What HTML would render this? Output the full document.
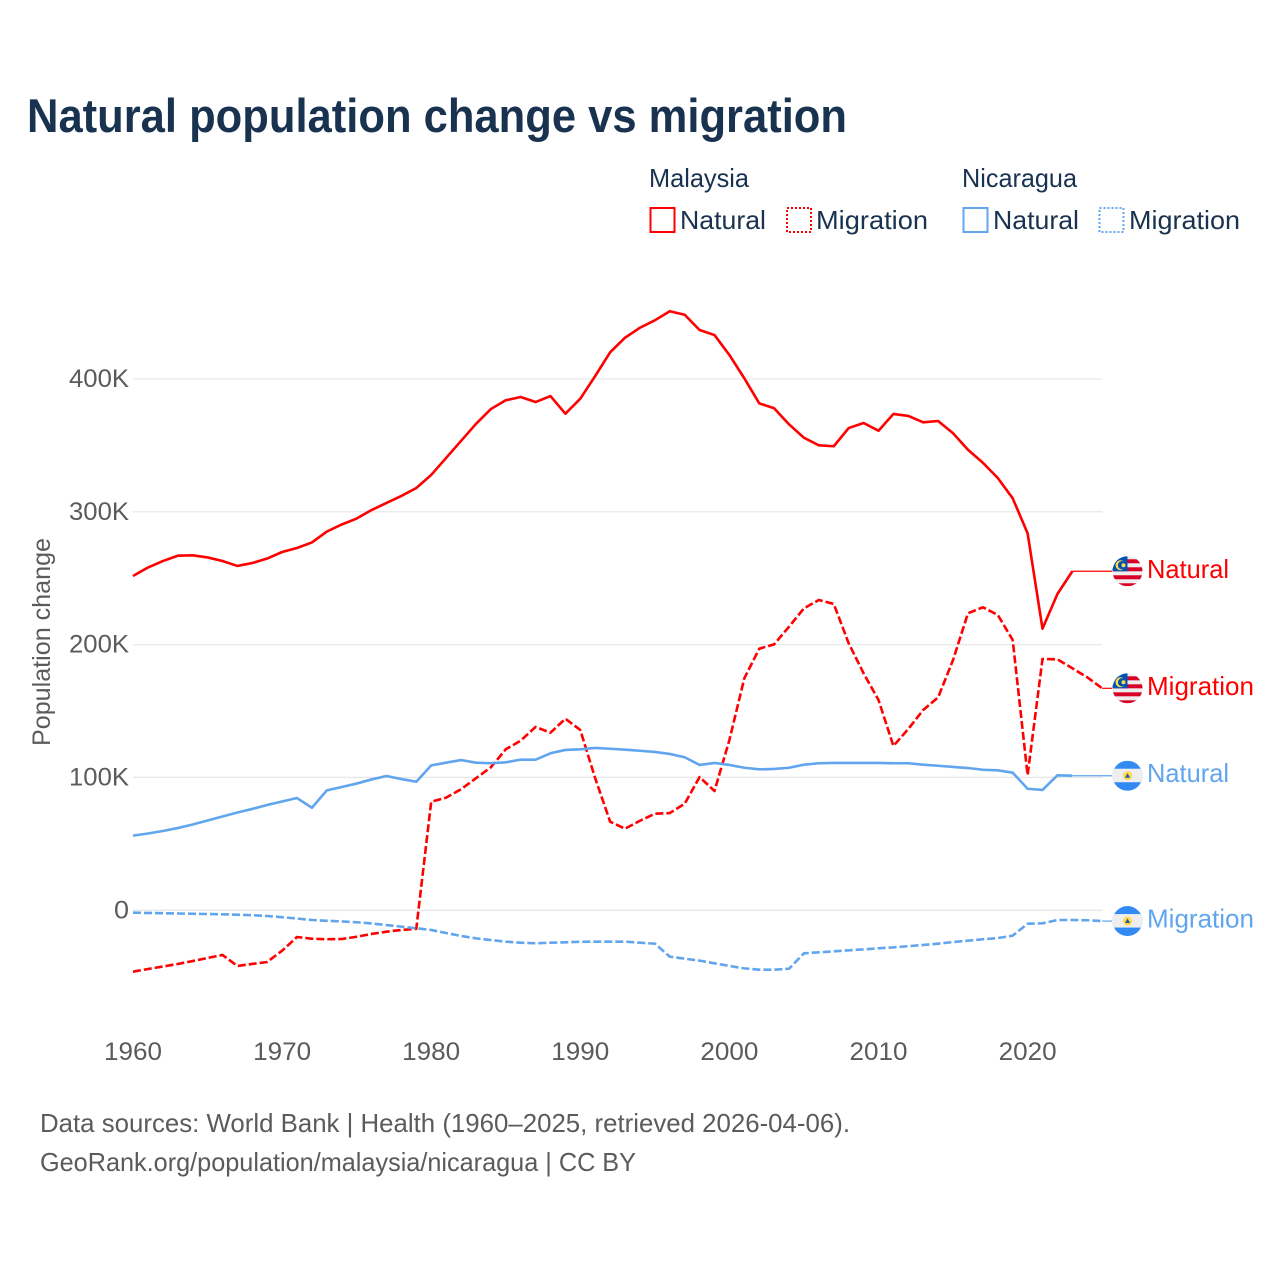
<!DOCTYPE html>
<html lang="en">
<head>
<meta charset="utf-8">
<title>Natural population change vs migration</title>
<style>
html,body{margin:0;padding:0;background:#fff;}
svg{display:block;font-family:"Liberation Sans",sans-serif;}
</style>
</head>
<body>
<svg id="chart" xmlns="http://www.w3.org/2000/svg" width="1280" height="1280" viewBox="0 0 1280 1280">
  <defs>
    <clipPath id="flag-clip"><circle cx="0" cy="0" r="15"></circle></clipPath>
    <g id="flag-my">
      <g clip-path="url(#flag-clip)">
        <rect x="-15" y="-15" width="30" height="30" fill="#eeeeee"></rect>
        <rect x="-15" y="-12" width="30" height="4" fill="#d80027"></rect>
        <rect x="-15" y="-4" width="30" height="4" fill="#d80027"></rect>
        <rect x="-15" y="4" width="30" height="4" fill="#d80027"></rect>
        <rect x="-15" y="12" width="30" height="3" fill="#d80027"></rect>
        <rect x="-15" y="-15" width="15" height="15" fill="#0052b4"></rect>
        <circle cx="-7" cy="-6" r="5" fill="#ffda44"></circle>
        <circle cx="-5.4" cy="-6" r="4.2" fill="#0052b4"></circle>
        <circle cx="-4" cy="-6" r="2" fill="#ffda44"></circle>
      </g>
    </g>
    <g id="flag-ni">
      <g clip-path="url(#flag-clip)">
        <rect x="-15" y="-15" width="30" height="30" fill="#338af3"></rect>
        <rect x="-15" y="-7" width="30" height="13.5" fill="#eeeeee"></rect>
        <circle cx="0" cy="0" r="4.5" fill="#ffda44"></circle>
        <path d="M0 -2.5 L2.6 2 L-2.6 2 Z" fill="#1a5fb4"></path>
      </g>
    </g>
  </defs>

  <rect x="0" y="0" width="1280" height="1280" fill="#ffffff"></rect>

  <text x="27" y="132" font-size="47" font-weight="700" fill="#18324f" textLength="820" lengthAdjust="spacingAndGlyphs">Natural population change vs migration</text>

  <g font-size="26" fill="#18324f">
    <text x="649" y="187" textLength="100" lengthAdjust="spacingAndGlyphs">Malaysia</text>
    <text x="962" y="187" textLength="115" lengthAdjust="spacingAndGlyphs">Nicaragua</text>
    <rect x="650.5" y="208" width="24" height="24" fill="none" stroke="#ff0000" stroke-width="2"></rect>
    <text x="680" y="229" textLength="86" lengthAdjust="spacingAndGlyphs">Natural</text>
    <rect x="787" y="208" width="24" height="24" fill="none" stroke="#ff0000" stroke-width="2" stroke-dasharray="2 2"></rect>
    <text x="816" y="229" textLength="112" lengthAdjust="spacingAndGlyphs">Migration</text>
    <rect x="963.5" y="208" width="24" height="24" fill="none" stroke="#61a5ee" stroke-width="2"></rect>
    <text x="993" y="229" textLength="86" lengthAdjust="spacingAndGlyphs">Natural</text>
    <rect x="1099.5" y="208" width="24" height="24" fill="none" stroke="#61a5ee" stroke-width="2" stroke-dasharray="2 2"></rect>
    <text x="1129" y="229" textLength="111" lengthAdjust="spacingAndGlyphs">Migration</text>
  </g>

  <text transform="translate(50,642) rotate(-90)" text-anchor="middle" font-size="25" fill="#5b5b5b" textLength="208" lengthAdjust="spacingAndGlyphs">Population change</text>

  <g id="grid"></g>
  <g id="y-ticks"></g>
  <g id="x-ticks"></g>
  <g id="series"></g>
  <g id="ends"></g>

  <g font-size="26" fill="#5b5b5b">
    <text x="40" y="1132" textLength="810" lengthAdjust="spacingAndGlyphs">Data sources: World Bank | Health (1960–2025, retrieved 2026-04-06).</text>
    <text x="40" y="1171" textLength="596" lengthAdjust="spacingAndGlyphs">GeoRank.org/population/malaysia/nicaragua | CC BY</text>
  </g>
</svg>
<script>
const startYear = 1960;
const xTickYears = [1960, 1970, 1980, 1990, 2000, 2010, 2020];
const yTickValues = [0, 100, 200, 300, 400];
const yTickLabels = ['0', '100K', '200K', '300K', '400K'];

// Values in thousands, one per year starting at 1960.
const malaysiaNatural = [251.6,258.0,262.9,266.9,267.2,265.6,262.9,259.2,261.4,264.8,269.7,272.7,276.9,285.1,290.4,294.9,301.3,306.6,311.9,317.9,327.7,340.5,353.3,366.1,377.3,383.9,386.4,382.6,387.1,373.8,385.1,402.2,420.0,431.0,438.5,444.1,450.9,448.3,436.8,433.0,418.0,400.5,381.6,377.9,365.8,355.7,350.0,349.3,363.0,366.8,361.0,373.6,372.1,367.3,368.3,359.1,346.7,336.9,325.4,310.1,283.8,212.0,238.1,255.2];
const malaysiaMigration = [-46.2,-44.2,-42.3,-40.4,-38.2,-35.9,-33.6,-41.9,-40.4,-38.9,-30.4,-20.1,-21.4,-21.8,-21.6,-19.9,-17.8,-16.1,-14.8,-13.9,81.7,84.8,91.1,99.4,107.6,121.2,127.7,138.0,133.7,144.2,135.7,99.4,66.7,61.4,67.4,72.7,73.2,80.2,100.3,89.8,128.2,174.6,196.9,200.2,213.5,227.3,233.6,230.6,201.0,178.4,158.3,123.7,136.5,150.8,160.3,188.4,223.6,228.1,222.3,203.5,101.8,189.2,188.9,182.2,175.4,167.1];
const nicaraguaNatural = [56.2,57.8,59.7,61.9,64.6,67.6,70.6,73.6,76.3,79.3,81.9,84.5,77.2,90.3,92.8,95.4,98.5,101.1,98.8,96.8,109.1,111.1,113.1,111.1,110.7,111.4,113.4,113.4,118.2,120.7,121.2,122.2,121.6,120.9,120.1,119.2,117.7,115.2,109.4,110.9,109.4,107.3,106.1,106.4,107.3,109.6,110.7,110.9,110.9,110.9,110.9,110.7,110.7,109.6,108.8,107.9,107.1,105.8,105.4,103.6,91.5,90.6,101.6,101.3];
const nicaraguaMigration = [-1.8,-2.0,-2.2,-2.4,-2.6,-2.8,-3.0,-3.3,-3.7,-4.3,-5.2,-6.2,-7.3,-7.9,-8.4,-9.0,-9.9,-11.1,-12.3,-13.5,-14.8,-17.1,-19.3,-21.1,-22.4,-23.6,-24.4,-24.8,-24.4,-24.1,-23.7,-23.6,-23.6,-23.6,-24.4,-25.1,-34.9,-36.4,-37.9,-39.9,-41.9,-43.7,-44.7,-44.7,-44.0,-32.4,-31.6,-30.9,-30.1,-29.4,-28.6,-27.9,-27.0,-26.1,-25.1,-23.9,-22.9,-21.8,-20.9,-19.1,-10.1,-9.8,-7.3,-7.3,-7.5,-8.1];

const SVG_NS = 'http://www.w3.org/2000/svg';
const RED = '#ff0000';
const BLUE = '#61a5ee';
const FLAG_X = 1127.5;
const LEADER_END = 1112;
const LABEL_X = 1147;

function xScale(year) { return 133 + (year - 1960) * 14.91; }
function yScale(value) { return 910.3 - value * 1.3285; }
function make(tag, parent) {
  const el = document.createElementNS(SVG_NS, tag);
  parent.appendChild(el);
  return el;
}

const gridGroup = document.getElementById('grid');
const yTickGroup = document.getElementById('y-ticks');
yTickValues.forEach(function (value, i) {
  const line = make('line', gridGroup);
  
  
  line.setAttribute('x1', 133);
  line.setAttribute('x2', 1102.5);
  line.setAttribute('y1', yScale(value));
  line.setAttribute('y2', yScale(value));
  line.setAttribute('stroke', '#e8e8e8');
  line.setAttribute('stroke-width', 1.3);

  const label = make('text', yTickGroup);
  
  
  label.setAttribute('x', 129);
  label.setAttribute('y', yScale(value) + 8);
  label.setAttribute('text-anchor', 'end');
  label.setAttribute('font-size', 25);
  label.setAttribute('fill', '#5b5b5b');
  label.setAttribute('textLength', yTickLabels[i].length * 15);
  label.setAttribute('lengthAdjust', 'spacingAndGlyphs');
  label.textContent = yTickLabels[i];
});

const xTickGroup = document.getElementById('x-ticks');
xTickYears.forEach(function (year) {
  const label = make('text', xTickGroup);
  
  
  label.setAttribute('x', xScale(year));
  label.setAttribute('y', 1060);
  label.setAttribute('text-anchor', 'middle');
  label.setAttribute('font-size', 25);
  label.setAttribute('fill', '#5b5b5b');
  label.setAttribute('textLength', 58);
  label.setAttribute('lengthAdjust', 'spacingAndGlyphs');
  label.textContent = String(year);
});

function drawLine(values, color, dashed, name) {
  const path = make('path', document.getElementById('series'));
  
  
  const d = values.map(function (v, i) {
    return (i ? 'L' : 'M') + xScale(startYear + i).toFixed(2) + ' ' + yScale(v).toFixed(2);
  }).join(' ');
  path.setAttribute('d', d);
  path.setAttribute('fill', 'none');
  path.setAttribute('stroke', color);
  path.setAttribute('stroke-width', 2.6);
  path.setAttribute('stroke-linejoin', 'round');
  if (dashed) path.setAttribute('stroke-dasharray', '8 3');
}

function drawEnd(values, color, flagId, text, textWidth, name) {
  const group = document.getElementById('ends');
  const lastValue = values[values.length - 1];
  const lastX = xScale(startYear + values.length - 1);
  const yPos = yScale(lastValue);

  const leader = make('line', group);
  
  
  leader.setAttribute('x1', lastX);
  leader.setAttribute('x2', LEADER_END);
  leader.setAttribute('y1', yPos);
  leader.setAttribute('y2', yPos);
  leader.setAttribute('stroke', color);
  leader.setAttribute('stroke-width', 1.2);

  const flag = make('use', group);
  
  
  flag.setAttribute('href', '#' + flagId);
  flag.setAttribute('transform', 'translate(' + FLAG_X + ',' + yPos + ')');

  const label = make('text', group);
  
  
  label.setAttribute('x', LABEL_X);
  label.setAttribute('y', yPos + 6.5);
  label.setAttribute('font-size', 26);
  label.setAttribute('fill', color);
  label.setAttribute('textLength', textWidth);
  label.setAttribute('lengthAdjust', 'spacingAndGlyphs');
  label.textContent = text;
}

drawLine(malaysiaNatural, RED, false, 'line-malaysia-natural');
drawLine(malaysiaMigration, RED, true, 'line-malaysia-migration');
drawLine(nicaraguaNatural, BLUE, false, 'line-nicaragua-natural');
drawLine(nicaraguaMigration, BLUE, true, 'line-nicaragua-migration');

drawEnd(malaysiaNatural, RED, 'flag-my', 'Natural', 82, 'end-malaysia-natural');
drawEnd(malaysiaMigration, RED, 'flag-my', 'Migration', 107, 'end-malaysia-migration');
drawEnd(nicaraguaNatural, BLUE, 'flag-ni', 'Natural', 82, 'end-nicaragua-natural');
drawEnd(nicaraguaMigration, BLUE, 'flag-ni', 'Migration', 107, 'end-nicaragua-migration');
</script>
</body>
</html>
